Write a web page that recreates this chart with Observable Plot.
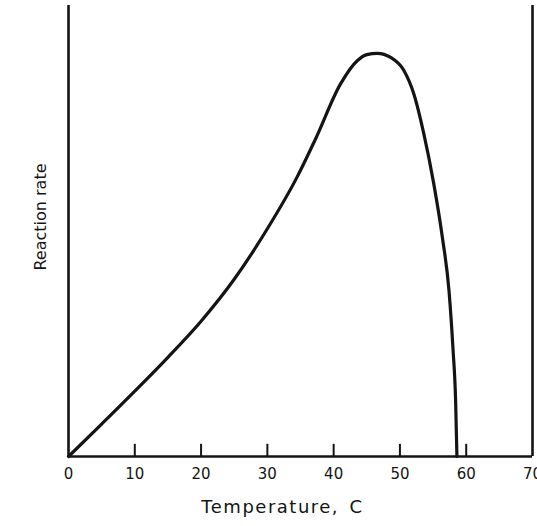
<!DOCTYPE html>
<html>
<head>
<meta charset="utf-8">
<script src="https://cdn.jsdelivr.net/npm/d3@7"></script>
<script src="https://cdn.jsdelivr.net/npm/@observablehq/plot@0.6"></script>
<style>
  html, body { margin: 0; padding: 0; background: #fff; }
</style>
</head>
<body>
<div id="chart"></div>
<script>
// Temperature (°C) and relative reaction rate
const temps = [0, 5, 10, 15, 20, 25, 30, 34.5, 37.3, 41, 43.6, 45, 46.6, 48.6, 50.6, 52.1, 53.6, 55.1, 56.4, 57.4, 58.0, 58.4, 58.6];
const rates = [0, 7.2, 14.5, 22, 30, 39.3, 50.5, 62, 70.5, 82.5, 87.8, 89.1, 89.4, 88.5, 85.6, 80.4, 71.6, 60.5, 48.6, 36.8, 24, 12.4, 0];

const xTicks = [0, 10, 20, 30, 40, 50, 60, 70];
const innerTicks = [10, 20, 30, 40, 50, 60];
const xDomain = [0, 70];
const yDomain = [0, 100];
const xLabel = "Temperature,\u2002C";
const yLabel = "Reaction rate";

const curve = temps.map((t, i) => ({t, r: rates[i]}));

const ink = "#141414";

const chart = Plot.plot({
  width: 537,
  height: 526,
  marginLeft: 68,
  marginRight: 5,
  marginTop: 5,
  marginBottom: 70,
  x: {domain: xDomain, axis: null},
  y: {domain: yDomain, axis: null},
  style: {background: "#fff", fontFamily: "DejaVu Sans", color: ink},
  marks: [
    // frame: left axis, right border, baseline
    Plot.ruleX(xDomain, {y1: yDomain[0], y2: yDomain[1], stroke: ink, strokeWidth: 2.6}),
    Plot.ruleY([0], {x1: xDomain[0], x2: xDomain[1], stroke: ink, strokeWidth: 2.6}),
    // inward tick marks
    Plot.ruleX(innerTicks, {y1: 0, y2: 2.7, stroke: ink, strokeWidth: 2}),
    Plot.axisX(xTicks, {tickSize: 0, tickPadding: 12, fontSize: 15, label: null}),
    // curve
    Plot.line(curve, {x: "t", y: "r", curve: "monotone-x", stroke: ink, strokeWidth: 3.2, strokeLinecap: "round", strokeLinejoin: "round"}),
    // axis labels
    Plot.text([xLabel], {frameAnchor: "bottom", dx: -18, dy: 51, fontSize: 18, fill: ink, lineAnchor: "middle"}),
    Plot.text([yLabel], {frameAnchor: "left", textAnchor: "middle", rotate: -90, dx: -28, dy: -14, fontSize: 16, fill: ink, lineAnchor: "middle"})
  ]
});
d3.select(chart).selectAll("text")
  .filter(function() { return this.textContent === xLabel; })
  .style("letter-spacing", "1.5px");
document.getElementById("chart").append(chart);
</script>
</body>
</html>
